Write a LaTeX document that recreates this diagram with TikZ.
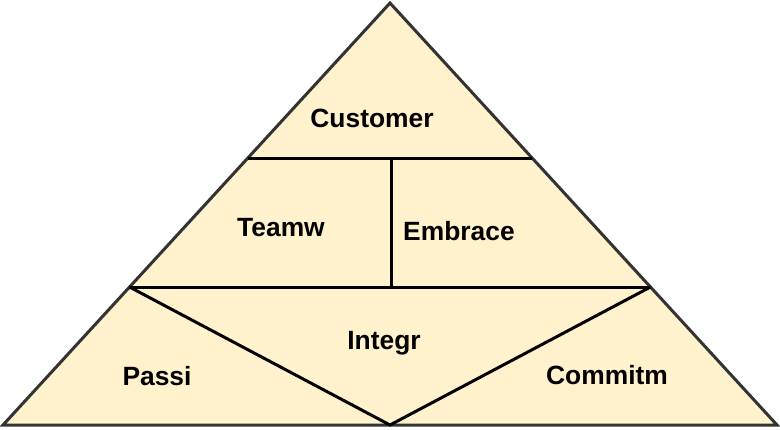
\documentclass[tikz,border=0pt]{standalone}
\usepackage{fontspec}
\setmainfont{Liberation Sans}
\usetikzlibrary{calc}
\definecolor{pyrfill}{HTML}{FFF2CC}
\definecolor{pyredge}{HTML}{333333}

\begin{document}
\begin{tikzpicture}[
				x=0.5pt,y=-0.5pt,
				outline/.style={draw=pyredge,line width=1.5pt,fill=pyrfill,line join=miter},
				divider/.style={draw=black,line width=1.5pt},
				tier/.style={font=\fontsize{13.2}{15}\selectfont\bfseries,inner sep=0pt}
				]
				\useasboundingbox (0,0) rectangle (780,429);
				
				% Eckpunkte
				\coordinate (apex) at (390,3);
				\coordinate (bl) at (3,425);
				\coordinate (br) at (777,425);
				\coordinate (bm) at (390,425);
				
				% Teilungspunkte auf den Seiten
				\coordinate (ul) at ($(apex)!0.3673!(bl)$);
				\coordinate (ur) at ($(apex)!0.3673!(br)$);
				\coordinate (ll) at ($(apex)!0.673!(bl)$);
				\coordinate (lr) at ($(apex)!0.673!(br)$);
				\coordinate (mt) at (391,158);
				\coordinate (mb) at (391,287);
				
				% Pyramide
				\path[outline] (apex) -- (br) -- (bl) -- cycle;
				
				% Trennlinien
				\draw[divider] (ul) -- (ur);
				\draw[divider] (mt) -- (mb);
				\draw[divider] (ll) -- (lr);
				\draw[divider] (ll) -- (bm) -- (lr);
				
				% Beschriftungen
				\node[tier] (customer) at (372,118) {Customer};
				\node[tier] (teamw) at (281,228) {Teamw};
				\node[tier] (embrace) at (459,231) {Embrace};
				\node[tier] (integr) at (384,343) {Integr};
				\node[tier] (passi) at (157,376) {Passi};
				\node[tier] (commitm) at (607,375) {Commitm};
				
			\end{tikzpicture}
\end{document}
